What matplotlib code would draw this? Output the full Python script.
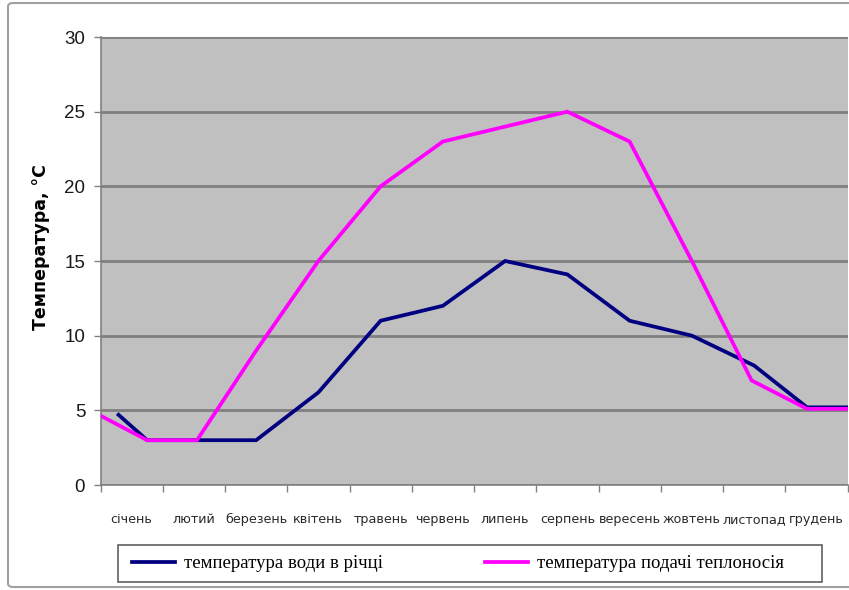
import matplotlib.pyplot as plt
from matplotlib.patches import FancyBboxPatch, Rectangle

months = ['січень', 'лютий', 'березень', 'квітень', 'травень', 'червень',
          'липень', 'серпень', 'вересень', 'жовтень', 'листопад', 'грудень']

# температура води в річці (позиції по осі x у частках місяця)
x_water = [-0.21, 0.25, 1.0, 2.0, 3.0, 4.0, 5.0, 6.0, 7.0, 8.0, 9.0, 10.0, 10.85, 11.6]
t_water = [4.7, 3.0, 3.0, 3.0, 6.2, 11.0, 12.0, 15.0, 14.1, 11.0, 10.0, 8.0, 5.2, 5.2]

# температура подачі теплоносія
x_heat = [-0.48, 0.25, 1.05, 2.0, 3.0, 4.0, 5.0, 6.0, 7.0, 8.0, 9.0, 9.96, 10.85, 11.6]
t_heat = [4.6, 3.0, 3.0, 9.0, 15.0, 20.0, 23.0, 24.0, 25.0, 23.0, 15.0, 7.0, 5.1, 5.1]

W, H = 849, 590
fig = plt.figure(figsize=(W / 100, H / 100), dpi=100)
fig.patch.set_facecolor('white')

# рамка області діаграми
fig.add_artist(FancyBboxPatch((8 / W, 3 / H), 1.02, 584 / H,
                              boxstyle='round,pad=0,rounding_size=0.006',
                              transform=fig.transFigure, facecolor='none',
                              edgecolor='#a0a0a0', linewidth=1.5))

ax = fig.add_axes([100.5 / W, 1 - 485 / H, 747 / W, 448 / H])
ax.set_facecolor('#c0c0c0')

ax.plot(x_water, t_water, color='#000080', lw=2.7, solid_joinstyle='miter',
        label='температура води в річці', zorder=3)
ax.plot(x_heat, t_heat, color='#ff00ff', lw=2.7, solid_joinstyle='miter',
        label='температура подачі теплоносія', zorder=3)

ax.set_xlim(-0.5, 11.5)
ax.set_ylim(0, 30)
ax.set_yticks(range(0, 31, 5))
ax.grid(axis='y', color='#808080', lw=2, zorder=1)
ax.set_axisbelow(True)

# мітки між місяцями, підписи по центрах
ax.set_xticks([i - 0.5 for i in range(13)])
ax.set_xticklabels([])
ax.set_xticks(range(12), minor=True)
ax.set_xticklabels(months, minor=True, fontsize=9.2, family='DejaVu Sans', color='#2a2a2a')
ax.tick_params(axis='x', which='minor', length=0, pad=20)
ax.tick_params(axis='x', which='major', length=5, color='#808080', width=1)
ax.tick_params(axis='y', length=5, color='#808080', width=1, pad=6)
for lbl in ax.get_yticklabels():
    lbl.set_fontfamily('Liberation Sans')
    lbl.set_fontsize(13.5)
    lbl.set_color('#1a1a1a')

for side in ['top', 'right']:
    ax.spines[side].set_visible(False)
for side in ['left', 'bottom']:
    ax.spines[side].set_color('#808080')
    ax.spines[side].set_linewidth(1.2)

ax.set_ylabel('Температура, °С', fontsize=12.5, fontweight='bold',
              family='DejaVu Sans')
ax.yaxis.set_label_coords((50 - 100) / 747, 0.53)

# легенда з окремою рамкою
fig.add_artist(Rectangle((118 / W, 1 - 582 / H), (822 - 118) / W, 37 / H,
                         transform=fig.transFigure, facecolor='white',
                         edgecolor='#606060', linewidth=1.2, zorder=4))
leg = fig.legend(loc='center left', ncol=2, bbox_to_anchor=(117 / W, 1 - 563.5 / H),
                 prop={'family': 'Liberation Serif', 'size': 13.5},
                 handlelength=2.3, handletextpad=0.5, columnspacing=5.4,
                 borderpad=0.3, frameon=False)
leg.set_zorder(5)

fig.savefig('out.png', dpi=100)
